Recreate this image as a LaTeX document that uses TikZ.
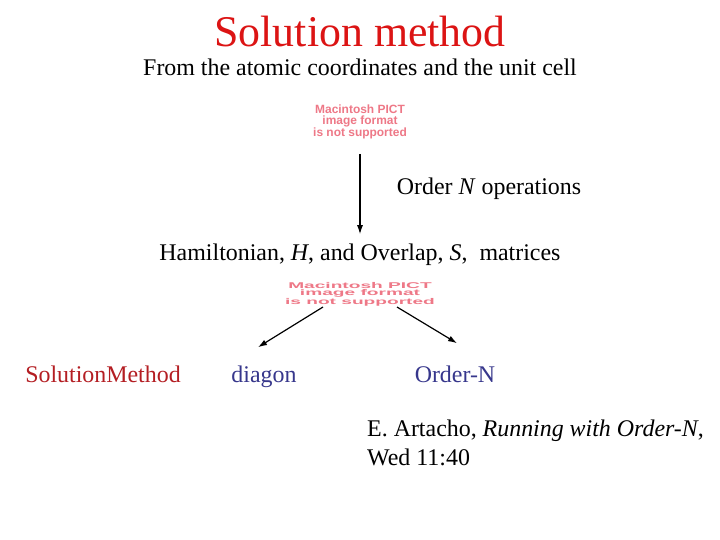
\documentclass[tikz,border=0pt]{standalone}
\usepackage{fontspec}
\setmainfont{Liberation Serif}
\newfontfamily\pictfont{Liberation Sans}
\usepackage{xcolor}
\usetikzlibrary{arrows.meta, calc}
\definecolor{TitleRed}{RGB}{220,20,20}
\definecolor{LabelRed}{RGB}{180,30,35}
\definecolor{LabelBlue}{RGB}{55,55,140}
\definecolor{PictPink}{RGB}{238,120,135}
\tikzset{
  >=latex,
  % testo principale
  txt/.style={font=\fontsize{24}{28}\selectfont, inner sep=0pt, anchor=base},
  % segnaposto immagine PICT
  pict/.style={font=\pictfont\bfseries\fontsize{12}{11}\selectfont, text=PictPink, align=center, inner sep=0pt},
  % frecce
  flow/.style={-{Latex[length=9pt,width=6pt]}, line width=1.2pt, black}
}
\begin{document}
\begin{tikzpicture}[x=1bp, y=-1bp]
    \fill[white] (0,0) rectangle (720,540);
    \useasboundingbox (0,0) rectangle (720,540);
    \node[txt, font=\fontsize{44}{48}\selectfont, text=TitleRed] (title) at (360,47) {Solution method};
    \node[txt] (from) at (360,76) {From the atomic coordinates and the unit cell};
    \node[pict] (pict1) at (360,122) {Macintosh PICT\\image format\\is not supported};
    \node[txt] (order) at (489,195) {Order \textit{N} operations};
    \node[txt] (ham) at (360,261) {Hamiltonian, \textit{H}, and Overlap, \textit{S},\ \ matrices};
    \node[pict, xscale=1.6, yscale=0.7, transform shape] (pict2) at (360,294) {Macintosh PICT\\image format\\is not supported};
    \node[txt, text=LabelRed] (solm) at (103,382) {SolutionMethod};
    \node[txt, text=LabelBlue] (diagon) at (264,382) {diagon};
    \node[txt, text=LabelBlue] (ordn) at (455,382) {Order-N};
    \node[txt, anchor=base west] (ref) at (367,436) {E. Artacho, \textit{Running with Order-N},};
    \node[txt, anchor=base west] (wed) at (367,465) {Wed 11:40};
    % frecce
    \coordinate (top) at (360,154);
    \coordinate (lstart) at (323,307);
    \coordinate (rstart) at (397,307);
    \draw[flow] (top) -- ($(ham.north)+(0,-10)$);
    \draw[flow] (lstart) -- ($(diagon.north)+(-6,-18)$);
    \draw[flow] (rstart) -- ($(ordn.north)+(2,-22)$);
\end{tikzpicture}
\end{document}
